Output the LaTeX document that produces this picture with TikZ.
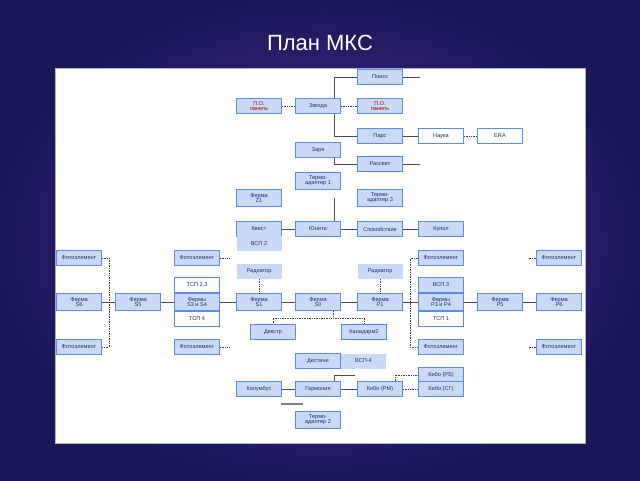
\documentclass[tikz,border=0pt]{standalone}
\usepackage{fontspec}
\setmainfont{Liberation Sans}
\definecolor{bfill}{HTML}{C8DAF8}
\definecolor{bline}{HTML}{5A8CE8}
\definecolor{btxt}{HTML}{1F2E6E}
\begin{document}
\begin{tikzpicture}[x=1pt,y=-1pt,
 b/.style={draw=bline,fill=bfill,line width=1pt,minimum width=45pt,minimum height=15pt,inner sep=0pt,font=\fontsize{5.6}{5.8}\selectfont,text=btxt,align=center},
 w/.style={b,fill=white},
 n/.style={b,draw=none},
 c/.style={line width=0.8pt,draw=black!70},
 d/.style={line width=0.7pt,densely dotted,draw=black!75}]
\useasboundingbox (0,0) rectangle (640,480);
\shade[inner color={rgb,255:red,95;green,40;blue,155},outer color={rgb,255:red,25;green,25;blue,90}] (0,0) rectangle (640,480);
\fill[white,draw=gray!60] (55,68) rectangle (585,443);
\node[text=white,font=\fontsize{22}{24}\selectfont] (title) at (320,43) {План МКС};
\node[b] (poisk) at (380,77) {Поиск};
\node[b] (zvezda) at (318,106) {Звезда};
\node[b,text=red!70!black] (pol) at (259,106) {П.О.\\[-1pt] панель};
\node[b,text=red!70!black] (por) at (380,106) {П.О.\\[-1pt] панель};
\node[b] (pars) at (380,136) {Парс};
\node[w] (nauka) at (441,136) {Наука};
\node[w] (era) at (500,136) {ERA};
\node[b] (zarya) at (318,150) {Заря};
\node[b] (rassvet) at (380,164) {Рассвет};
\node[b,minimum height=17pt] (ta1) at (318,181) {Термо-\\[-1pt] адаптер 1};
\node[b,minimum height=17pt] (z1) at (259,198) {Ферма\\[-1pt] Z1};
\node[b,minimum height=17pt] (ta3) at (380,198) {Термо-\\[-1pt] адаптер 3};
\node[b] (kvest) at (259,229) {Квест};
\node[n] (vsp2) at (259,243.5) {ВСП 2};
\node[b] (unity) at (318,229) {Юнити};
\node[b] (spok) at (380,229) {Спокойствие};
\node[b] (kupol) at (441,229) {Купол};
\node[b] (f1) at (79,258) {Фотоэлемент};
\node[b] (f2) at (79,347) {Фотоэлемент};
\node[b] (f3) at (197,258) {Фотоэлемент};
\node[b] (f4) at (197,347) {Фотоэлемент};
\node[b] (f5) at (441,258) {Фотоэлемент};
\node[b] (f6) at (441,347) {Фотоэлемент};
\node[b] (f7) at (559,258) {Фотоэлемент};
\node[b] (f8) at (559,347) {Фотоэлемент};
\node[n] (radl) at (259,271) {Радиатор};
\node[n] (radr) at (380,271) {Радиатор};
\node[w] (tsp23) at (197,285) {ТСП 2,3};
\node[b] (vsp3) at (441,285) {ВСП 3};
\node[b,minimum height=17pt] (s6) at (79,302) {Ферма\\[-1pt] S6};
\node[b,minimum height=17pt] (s5) at (138,302) {Ферма\\[-1pt] S5};
\node[b,minimum height=17pt] (s34) at (197,302) {Фермы\\[-1pt] S3 и S4};
\node[b,minimum height=17pt] (s1) at (259,302) {Ферма\\[-1pt] S1};
\node[b,minimum height=17pt] (s0) at (318,302) {Ферма\\[-1pt] S0};
\node[b,minimum height=17pt] (p1) at (380,302) {Ферма\\[-1pt] P1};
\node[b,minimum height=17pt] (p34) at (441,302) {Фермы\\[-1pt] P3 и P4};
\node[b,minimum height=17pt] (p5) at (500,302) {Ферма\\[-1pt] P5};
\node[b,minimum height=17pt] (p6) at (559,302) {Ферма\\[-1pt] P6};
\node[w] (tsp4) at (197,319) {ТСП 4};
\node[w] (tsp1) at (441,319) {ТСП 1};
\node[b] (dextr) at (273,332) {Декстр};
\node[b] (kanad) at (364,332) {Канадарм2};
\node[b] (dest) at (318,361) {Дестини};
\node[n] (vsp4) at (363.5,361) {ВСП-4};
\node[b] (kolumb) at (259,389) {Колумбус};
\node[b] (garm) at (318,389) {Гармония};
\node[b] (kibopm) at (380,389) {Кибо (PM)};
\node[b] (kibops) at (441,375) {Кибо (PS)};
\node[b] (kibosg) at (441,389) {Кибо (СГ)};
\node[b,minimum height=17pt] (ta2) at (318,420) {Термо-\\[-1pt] адаптер 2};
\coordinate (pe) at (420,77);
\coordinate (re) at (420,164);
\coordinate (ge) at (355,375);
% solid
\draw[c] (poisk.west) -| (zvezda.north east-|334,0) (zvezda.south-|334,0) |- (pars.west);
\draw[c] (poisk.east) -- (pe);
\draw[c] (zarya.south-|334,0) |- (rassvet.west);
\draw[c] (rassvet.east) -- (re);
\draw[c] (334,198) -- (unity.north-|334,0);
\draw[c] (pars) -- (nauka);
\draw[c] (kvest) -- (unity) -- (spok) -- (kupol);
\draw[c] (s6) -- (s5) -- (s34) -- (s1) -- (s0) -- (p1) -- (p34) -- (p5) -- (p6);
\draw[c] (kolumb) -- (garm) -- (kibopm);
\draw[c] (garm.north-|334,0) |- (ge);
\draw[line width=1.5pt,gray] (281,404) -- (303,404);
% dotted
\draw[d] (pol) -- (zvezda) -- (por);
\draw[d] (nauka) -- (era);
\draw[d] (f1.east) -- (109,258) -- (109,347) -- (f2.east);
\draw[d] (f3.east) -- (229,258);
\draw[d] (f4.east) -- (229,347);
\draw[d] (f5.west) -- (410,258) -- (410,347) -- (f6.west);
\draw[d] (f7.west) -- (529,258);
\draw[d] (f8.west) -- (529,347);
\draw[d] (radl) -- (s1);
\draw[d] (radr) -- (p1);
\draw[d] (333,311) -- (333,318) -- (273,318) -- (dextr.north);
\draw[d] (333,318) -- (364,318) -- (kanad.north);
\draw[d] (kibopm.north-|395,0) |- (kibops.west);
\draw[d] (kibopm) -- (kibosg);
\end{tikzpicture}
\end{document}
